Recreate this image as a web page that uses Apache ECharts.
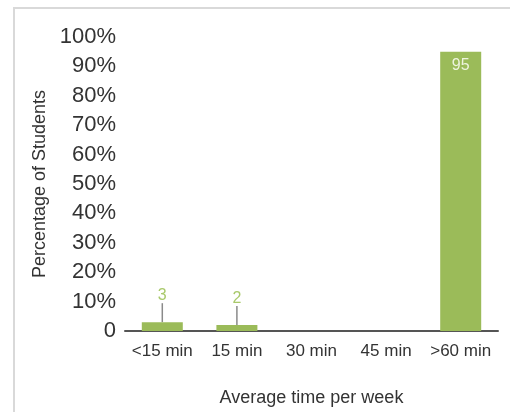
<!DOCTYPE html>
<html>
<head>
<meta charset="utf-8">
<script src="https://cdn.jsdelivr.net/npm/echarts@6/dist/echarts.min.js"></script>
<style>
  html, body { margin: 0; padding: 0; background: #ffffff; }
  #chart { width: 510px; height: 412px; }
</style>
</head>
<body>
<div id="chart"></div>
<script>
// Weekly time categories and share of students in each (percent)
const categories = ['<15 min', '15 min', '30 min', '45 min', '>60 min'];
const percentValues = [3, 2, 0, 0, 95];
// Values that are short bars get their label lifted with a guide line
const liftedLabel = [true, true, false, false, false];

const FONT = 'Liberation Sans, Arial, sans-serif';
const GREEN = '#9bbb59';

const barData = percentValues.map(function (v, i) {
  if (liftedLabel[i]) {
    return {
      value: v,
      label: { show: true, position: 'top', distance: 2, color: '#a9c96b', fontSize: 16 }
    };
  }
  return {
    value: v,
    label: { show: v > 0, position: 'insideTop', distance: 6, color: '#eef4de', fontSize: 16 }
  };
});

const chart = echarts.init(document.getElementById('chart'), null, { renderer: 'canvas' });

chart.setOption({
  backgroundColor: '#ffffff',
  animation: false,
  textStyle: { fontFamily: FONT },
  graphic: [{
    type: 'rect',
    shape: { x: 14, y: 8, width: 520, height: 420 },
    style: { fill: 'none', stroke: '#d9d9d9', lineWidth: 2 },
    silent: true,
    z: -10
  }],
  grid: { left: 125, right: 12, top: 37, bottom: 75 },
  xAxis: {
    type: 'category',
    data: categories,
    axisTick: { show: false },
    axisLine: { lineStyle: { color: '#555555', width: 2 } },
    axisLabel: { color: '#333333', fontSize: 17, margin: 12, interval: 0, fontFamily: FONT },
    name: 'Average time per week',
    nameLocation: 'middle',
    nameGap: 58,
    nameTextStyle: { color: '#333333', fontSize: 18, fontFamily: FONT }
  },
  yAxis: {
    type: 'value',
    min: 0,
    max: 100,
    interval: 10,
    splitLine: { show: false },
    axisLine: { show: false },
    axisTick: { show: false },
    axisLabel: {
      color: '#333333',
      fontSize: 22,
      margin: 9,
      fontFamily: FONT,
      formatter: function (v) { return v === 0 ? '0' : v + '%'; }
    },
    name: 'Percentage of Students',
    nameLocation: 'middle',
    nameGap: 75,
    nameTextStyle: { color: '#333333', fontSize: 18, fontFamily: FONT }
  },
  series: [{
    type: 'bar',
    data: barData,
    barWidth: 41,
    itemStyle: { color: GREEN },
    labelLayout: function (params) {
      return liftedLabel[params.dataIndex] ? { dy: -17 } : {};
    },
    labelLine: { show: true, lineStyle: { color: '#8a8a8a', width: 1.5 } }
  }]
});
</script>
</body>
</html>
